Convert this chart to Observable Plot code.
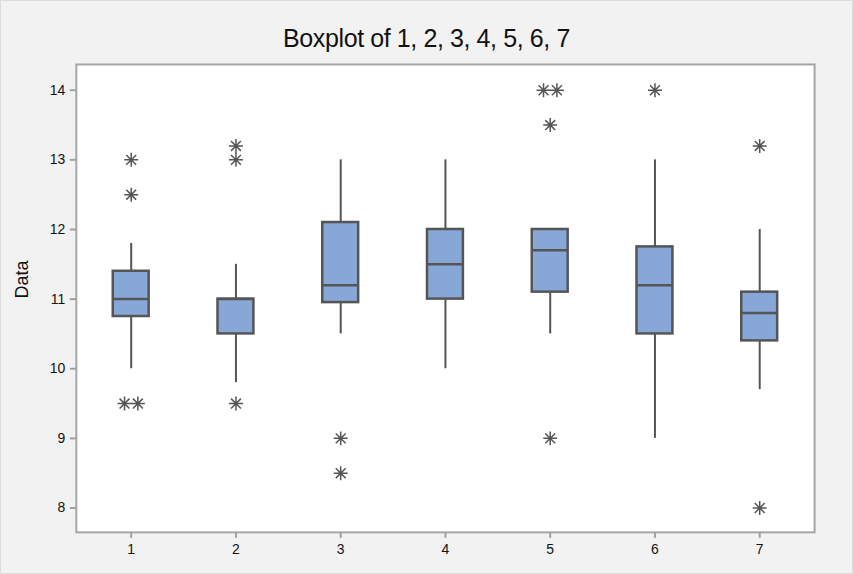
<!DOCTYPE html>
<html>
<head>
<meta charset="utf-8">
<script src="https://cdn.jsdelivr.net/npm/d3@7"></script>
<script src="https://cdn.jsdelivr.net/npm/@observablehq/plot@0.6"></script>
<style>
  html, body { margin: 0; padding: 0; background: #f2f2f2; }
  #wrap { width: 851px; height: 572px; border: 1px solid #dcdcdc; background: #f2f2f2; overflow: hidden; font-family: "Liberation Sans", Arial, sans-serif; }
  #title { height: 49px; box-sizing: border-box; padding-top: 24px; text-align: center; font-size: 25px; line-height: 26px; color: #111; letter-spacing: -0.4px; }
</style>
</head>
<body>
<div id="wrap">
  <div id="title">Boxplot of 1, 2, 3, 4, 5, 6, 7</div>
  <div id="chart"></div>
</div>
<script>
const categories = ["1", "2", "3", "4", "5", "6", "7"];
const q1       = [10.75, 10.5, 10.95, 11.0, 11.1, 10.5, 10.4];
const median   = [11.0,  11.0, 11.2,  11.5, 11.7, 11.2, 10.8];
const q3       = [11.4,  11.0, 12.1,  12.0, 12.0, 11.75, 11.1];
const whiskLo  = [10.0,  9.8,  10.5,  10.0, 10.5, 9.0,  9.7];
const whiskHi  = [11.8,  11.5, 13.0,  13.0, 12.0, 13.0, 12.0];
const outliers = [
  [13.0, 12.5, 9.5, 9.5],
  [13.2, 13.0, 9.5],
  [9.0, 8.5],
  [],
  [14.0, 14.0, 13.5, 9.0],
  [14.0],
  [13.2, 8.0]
];
const yTicks = [8, 9, 10, 11, 12, 13, 14];

const boxes = categories.map((c, i) => ({
  cat: c, q1: q1[i], med: median[i], q3: q3[i], lo: whiskLo[i], hi: whiskHi[i]
}));

// outliers with duplicate handling (side-by-side placement)
const outRows = [];
categories.forEach((c, i) => {
  const counts = d3.rollup(outliers[i], v => v.length, d => d);
  for (const [v, n] of counts) {
    for (let k = 0; k < n; k++) {
      outRows.push({cat: c, value: v, slot: k - (n - 1) / 2});
    }
  }
});

// 8-armed asterisk symbol
const asterisk8 = {
  draw(context, size) {
    const r = Math.sqrt(size / Math.PI);
    const d = r * Math.SQRT1_2;
    context.moveTo(0, -r); context.lineTo(0, r);
    context.moveTo(-r, 0); context.lineTo(r, 0);
    context.moveTo(-d, -d); context.lineTo(d, d);
    context.moveTo(-d, d); context.lineTo(d, -d);
  }
};

const slotGap = 13.4;
const slots = Array.from(new Set(outRows.map(d => d.slot)));

const chart = Plot.plot({
  width: 853,
  height: 523,
  marginLeft: 75,
  marginRight: 38,
  marginTop: 14,
  marginBottom: 40,
  style: {background: "#f2f2f2", fontFamily: "Liberation Sans, Arial, sans-serif", fontSize: "13px", color: "#111"},
  x: {domain: categories, paddingInner: 0.66, paddingOuter: 0.33, label: null},
  y: {domain: [7.65, 14.37], ticks: yTicks, label: null},
  marks: [
    Plot.frame({fill: "white", stroke: "#a6a6a6", strokeWidth: 2}),
    Plot.axisY({ticks: yTicks, tickFormat: d3.format("d"), tickSize: 6, stroke: "#a0a0a0", strokeWidth: 2, tickPadding: 5, fontSize: 14, fill: "#111"}),
    Plot.axisX({tickSize: 6, stroke: "#a0a0a0", strokeWidth: 2, tickPadding: 6, fontSize: 14, fill: "#111"}),
    Plot.text(["Data"], {frameAnchor: "left", dx: -54, rotate: -90, fontSize: 18, fill: "#111"}),
    Plot.ruleX(boxes, {x: "cat", y1: "q3", y2: "hi", stroke: "#555", strokeWidth: 2}),
    Plot.ruleX(boxes, {x: "cat", y1: "lo", y2: "q1", stroke: "#555", strokeWidth: 2}),
    Plot.barY(boxes, {x: "cat", y1: "q1", y2: "q3", fill: "#86a7d7", stroke: "#555", strokeWidth: 2.5}),
    Plot.tickY(boxes, {x: "cat", y: "med", stroke: "#555", strokeWidth: 2.5}),
    ...slots.map(s => Plot.dot(outRows.filter(d => d.slot === s), {
      x: "cat", y: "value", dx: s * slotGap, symbol: asterisk8, r: 7, stroke: "#555", strokeWidth: 1.5, fill: "none"
    }))
  ]
});
document.getElementById("chart").appendChild(chart);
</script>
</body>
</html>
